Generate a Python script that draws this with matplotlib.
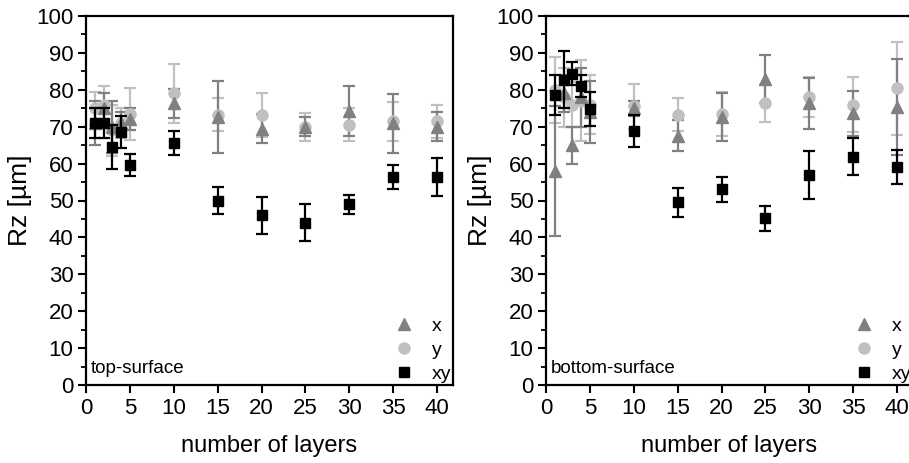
import matplotlib
matplotlib.use("Agg")
import matplotlib.pyplot as plt
from matplotlib.lines import Line2D
from matplotlib.ticker import MultipleLocator

plt.rcParams['font.family'] = ['Liberation Sans', 'DejaVu Sans']

layers = [1, 2, 3, 4, 5, 10, 15, 20, 25, 30, 35, 40]

# top-surface
top_x = [71, 75, 70, 71, 72, 76.3, 72.7, 69.5, 70, 74.2, 70.9, 70]
top_x_err = [6, 4, 7, 3, 3, 4, 9.7, 4, 2.5, 6.8, 8, 4]
top_y = [75, 76, 69, 71, 73.5, 79, 73.3, 73.2, 69.8, 70.5, 71.5, 71.5]
top_y_err = [4.5, 5, 7, 4, 7, 8, 4.5, 6, 3.8, 4.5, 5.3, 4.5]
top_xy = [71, 71, 64.5, 68.5, 59.7, 65.6, 50, 46, 44, 49, 56.3, 56.3]
top_xy_err = [4, 4, 6, 4.3, 3, 3.3, 3.7, 5, 5, 2.6, 3.2, 5.1]

# bottom-surface
bot_x = [58, 79, 65, 78, 74, 75, 67.5, 72.5, 82.8, 76.3, 73.6, 75.4]
bot_x_err = [17.5, 5, 5, 8, 8.5, 2, 4.2, 6.5, 6.5, 7, 6, 13]
bot_y = [80, 78, 76, 77, 76, 75.5, 73.3, 73.5, 76.3, 78, 76, 80.4]
bot_y_err = [9, 8, 6, 11, 8, 6, 4.5, 6, 5, 5.5, 7.5, 12.6]
bot_xy = [78.5, 82.7, 84.4, 81, 74.7, 68.9, 49.5, 53, 45.2, 56.9, 61.9, 59]
bot_xy_err = [5.4, 7.7, 3, 3, 4.6, 4.4, 4, 3.3, 3.4, 6.6, 5, 4.6]

labels = ['x', 'y', 'xy']
colors = ['#808080', '#c0c0c0', '#000000']
markers = ['^', 'o', 's']
xticks = [0, 5, 10, 15, 20, 25, 30, 35, 40]

W, H = 909, 463
fig = plt.figure(figsize=(W / 100, H / 100), dpi=100)

panels = [
    ('top-surface', top_x, top_x_err, top_y, top_y_err, top_xy, top_xy_err, 86),
    ('bottom-surface', bot_x, bot_x_err, bot_y, bot_y_err, bot_xy, bot_xy_err, 546),
]

for name, xv, xe, yv, ye, xyv, xye, left_px in panels:
    ax = fig.add_axes([left_px / W, (H - 385) / H, 367 / W, 369 / H])
    series = [(yv, ye, 1), (xv, xe, 0), (xyv, xye, 2)]
    for vals, errs, idx in series:
        ax.errorbar(layers, vals, yerr=errs, fmt=markers[idx], color=colors[idx],
                    ms=8 if idx != 2 else 7, elinewidth=1.6, capsize=4.5, capthick=1.6,
                    mec=colors[idx], zorder=2 + (idx == 2))
    ax.set_xlim(0, 41.8)
    ax.set_ylim(0, 100)
    ax.set_xticks(xticks)
    ax.yaxis.set_major_locator(MultipleLocator(10))
    ax.yaxis.set_minor_locator(MultipleLocator(5))
    ax.tick_params(axis='both', which='major', direction='out', length=6, width=1.5,
                   labelsize=16, pad=3)
    ax.tick_params(axis='y', which='minor', direction='out', length=3.5, width=1.3)
    for sp in ax.spines.values():
        sp.set_linewidth(1.6)
    ax.set_xlabel('number of layers', fontsize=17, labelpad=12)
    ax.set_ylabel('Rz [µm]', fontsize=19, labelpad=3)
    ax.text(0.012, 0.022, name, transform=ax.transAxes, fontsize=13.5,
            ha='left', va='bottom')
    handles = [Line2D([], [], ls='none', marker=markers[i], color=colors[i],
                      ms=8 if i != 2 else 6.5) for i in range(3)]
    ax.legend(handles, labels, loc='lower right', frameon=False, fontsize=14,
              handlelength=1.0, handletextpad=0.9, labelspacing=0.33,
              borderaxespad=0.0, borderpad=0.1)

fig.savefig('out.png', dpi=100)
